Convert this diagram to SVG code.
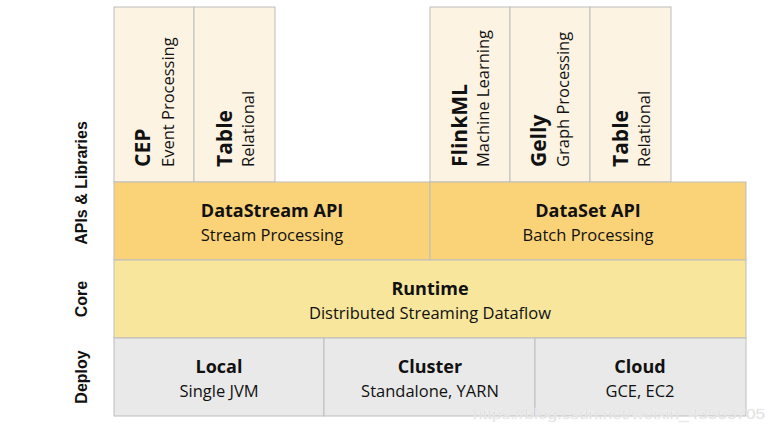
<svg xmlns="http://www.w3.org/2000/svg" width="770" height="432" viewBox="0 0 770 432">
<style>
.lib{fill:#FCF3E2;stroke:#BDBDBD;stroke-width:1}
.api{fill:#FAD378;stroke:#BDBDBD;stroke-width:1}
.core{fill:#F7E69B;stroke:#BDBDBD;stroke-width:1}
.dep{fill:#E9E9E9;stroke:#BDBDBD;stroke-width:1}
.t{font-family:"Open Sans","Noto Sans",sans-serif;fill:#111}
.b{font-weight:bold}
.lab{font-family:"Liberation Sans",Arial,sans-serif;font-weight:bold;font-size:16px;fill:#111;text-anchor:middle}
</style>
<rect width="770" height="432" fill="#fff"/>
<g id="labels">
<text class="lab" transform="translate(87,183) rotate(-90)">APIs &amp; Libraries</text>
<text class="lab" transform="translate(87,299) rotate(-90)">Core</text>
<text class="lab" transform="translate(87,377) rotate(-90)">Deploy</text>
</g>
<g id="cep">
<rect class="lib" x="114" y="7" width="80" height="175"/>
<text class="t b" font-size="21" transform="translate(150,167) rotate(-90)">CEP</text>
<text class="t" font-size="16.5" transform="translate(174,167) rotate(-90)">Event Processing</text>
</g>
<g id="table1">
<rect class="lib" x="194" y="7" width="81" height="175"/>
<text class="t b" font-size="21" transform="translate(232,167) rotate(-90)">Table</text>
<text class="t" font-size="16.5" transform="translate(254,167) rotate(-90)">Relational</text>
</g>
<g id="flinkml">
<rect class="lib" x="430" y="7" width="80" height="175"/>
<text class="t b" font-size="21" transform="translate(467,167) rotate(-90)">FlinkML</text>
<text class="t" font-size="16.5" transform="translate(489,167) rotate(-90)">Machine Learning</text>
</g>
<g id="gelly">
<rect class="lib" x="510" y="7" width="80" height="175"/>
<text class="t b" font-size="21" transform="translate(546,167) rotate(-90)">Gelly</text>
<text class="t" font-size="16.5" transform="translate(569,167) rotate(-90)">Graph Processing</text>
</g>
<g id="table2">
<rect class="lib" x="590" y="7" width="81" height="175"/>
<text class="t b" font-size="21" transform="translate(628,167) rotate(-90)">Table</text>
<text class="t" font-size="16.5" transform="translate(650,167) rotate(-90)">Relational</text>
</g>
<g id="datastream">
<rect class="api" x="114" y="182" width="316" height="78"/>
<text class="t b" font-size="18" x="272" y="217" text-anchor="middle">DataStream API</text>
<text class="t" font-size="16.5" x="272" y="241" text-anchor="middle">Stream Processing</text>
</g>
<g id="dataset">
<rect class="api" x="430" y="182" width="316" height="78"/>
<text class="t b" font-size="18" x="588" y="217" text-anchor="middle">DataSet API</text>
<text class="t" font-size="16.5" x="588" y="241" text-anchor="middle">Batch Processing</text>
</g>
<g id="runtime">
<rect class="core" x="114" y="260" width="632" height="78"/>
<text class="t b" font-size="18" x="430" y="295" text-anchor="middle">Runtime</text>
<text class="t" font-size="16.5" x="430" y="319" text-anchor="middle">Distributed Streaming Dataflow</text>
</g>
<g id="local">
<rect class="dep" x="114" y="338" width="210" height="78"/>
<text class="t b" font-size="18" x="219" y="373" text-anchor="middle">Local</text>
<text class="t" font-size="16.5" x="219" y="397" text-anchor="middle">Single JVM</text>
</g>
<g id="cluster">
<rect class="dep" x="324" y="338" width="211" height="78"/>
<text class="t b" font-size="18" x="430" y="373" text-anchor="middle">Cluster</text>
<text class="t" font-size="16.5" x="430" y="397" text-anchor="middle">Standalone, YARN</text>
</g>
<g id="cloud">
<rect class="dep" x="535" y="338" width="211" height="78"/>
<text class="t b" font-size="18" x="640" y="373" text-anchor="middle">Cloud</text>
<text class="t" font-size="16.5" x="640" y="397" text-anchor="middle">GCE, EC2</text>
</g>
<g id="connectors"></g>
<text x="473" y="419" font-family="Liberation Sans,Arial,sans-serif" font-size="15" fill="#D4D4D4" stroke="#F4F4F4" stroke-width="0.5" textLength="292" lengthAdjust="spacingAndGlyphs">https://blog.csdn.net/weixin_43563705</text>
</svg>
